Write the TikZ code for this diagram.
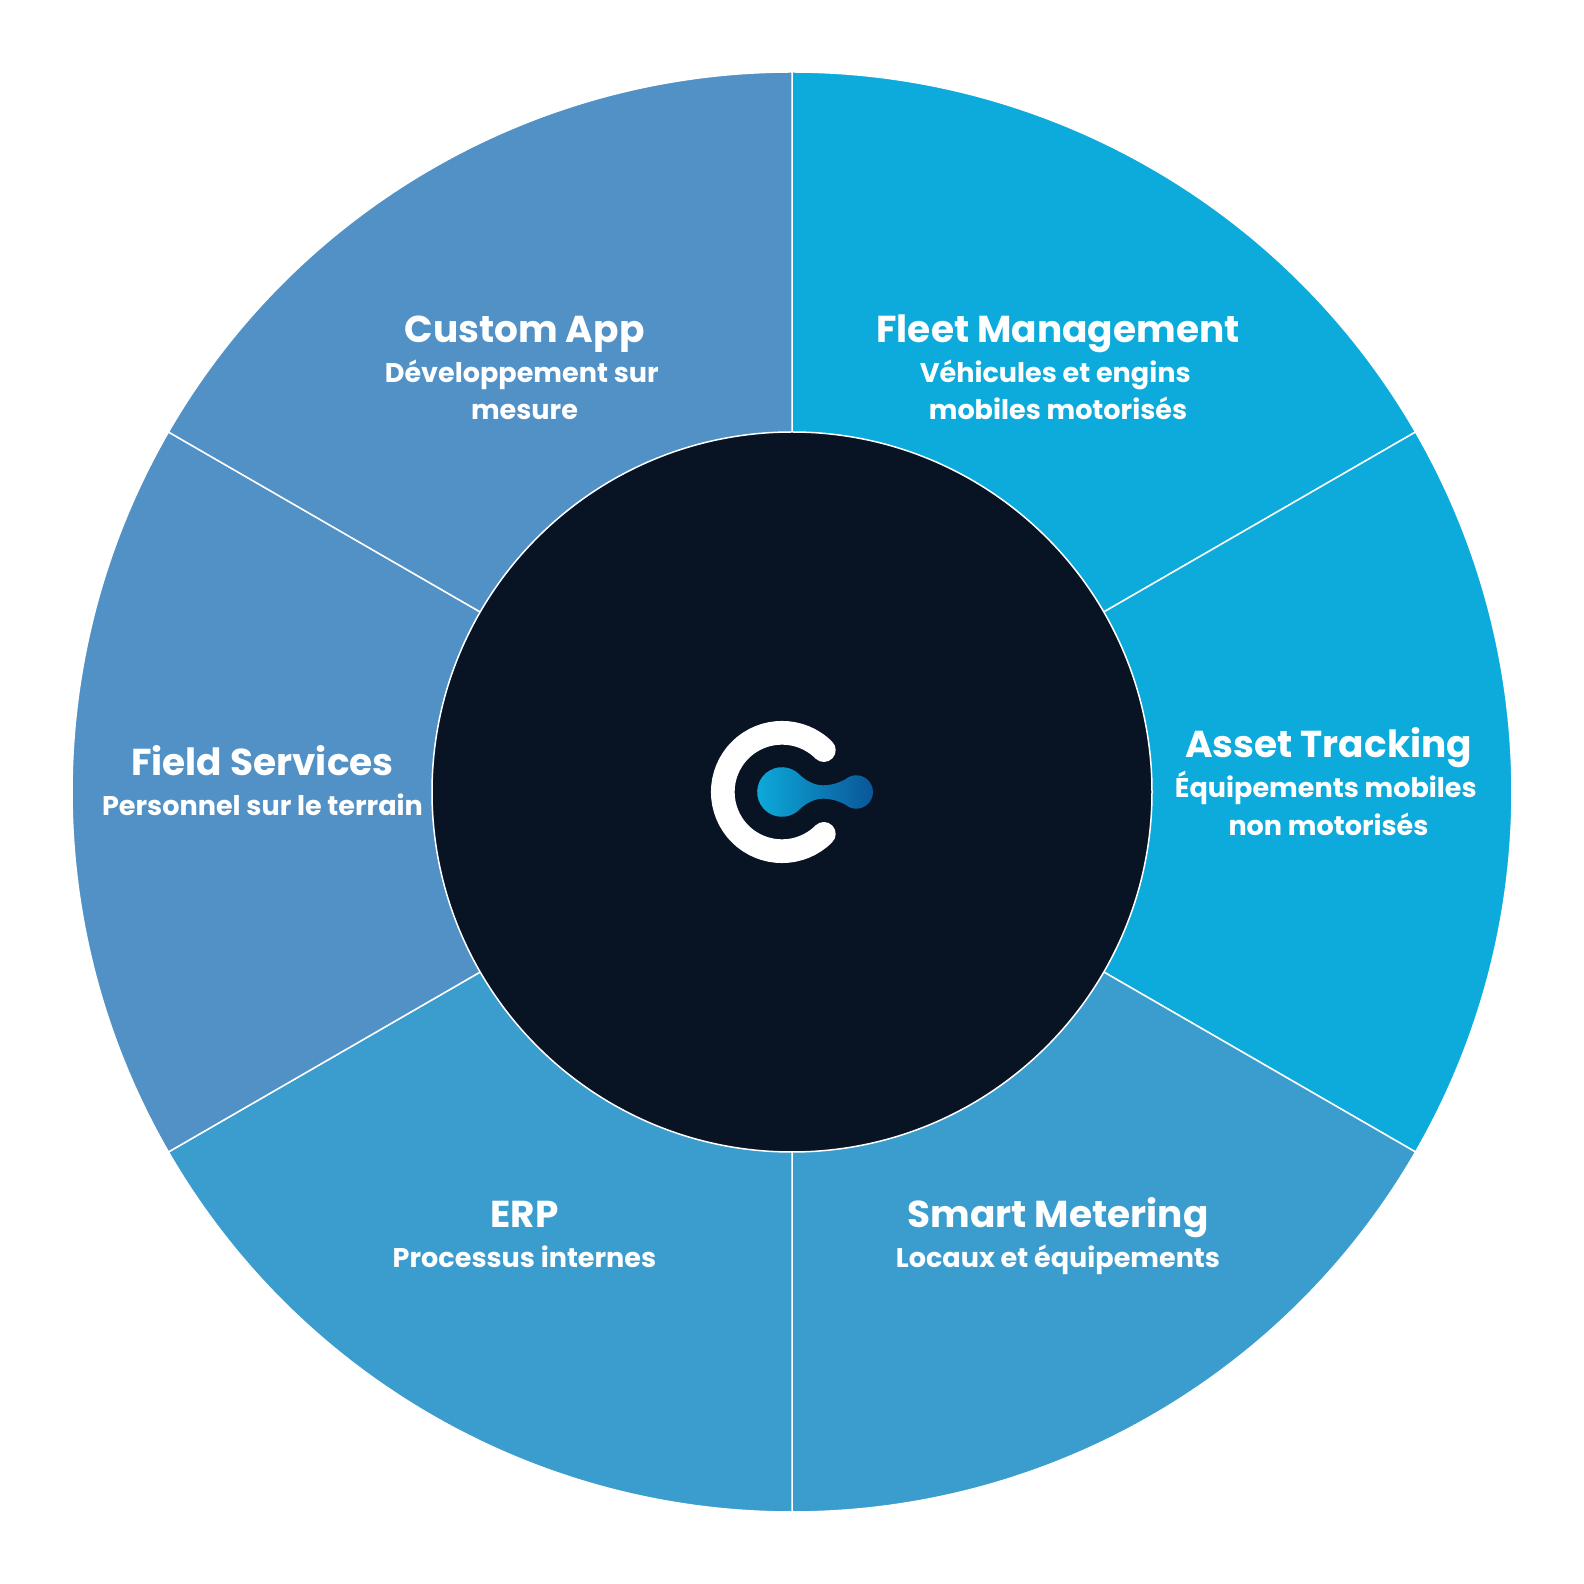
\documentclass[tikz,border=0pt]{standalone}
\usepackage{fontspec}
\setmainfont{Poppins}
\usepackage{tikz}
\usetikzlibrary{positioning}

\definecolor{fleetblue}{HTML}{0DABDB}
\definecolor{erpblue}{HTML}{3B9CCE}
\definecolor{appblue}{HTML}{5191C6}
\definecolor{hubdark}{HTML}{081324}
\definecolor{dropdark}{HTML}{0A5596}

\newcommand{\firstline}{\vphantom{É}}
\newcommand{\tailgap}{\hspace*{.2em}}

\tikzset{
	sector/.style={draw=white,line width=.15mm},
	title/.style={text=white,inner sep=0pt,anchor=base,font=\bfseries\fontsize{10.66}{12}\selectfont},
	subtitle/.style={text=white,inner sep=0pt,align=center,font=\bfseries\fontsize{7.7}{10.7}\selectfont}
}

\begin{document}
\begin{tikzpicture}
	\useasboundingbox (0,0) rectangle (15.84,15.84);
	\coordinate (center) at (7.92,7.92);
	\foreach \a/\col in {30/fleetblue,-30/fleetblue,-90/erpblue,-150/erpblue,150/appblue,90/appblue}
		\filldraw[sector,fill=\col] (center) -- ++(\a:7.2) arc[start angle=\a,delta angle=60,radius=7.2] -- cycle;
	\node[circle,fill=hubdark,draw=white,line width=.15mm,minimum size=7.2cm,inner sep=0pt] (hub) at (center) {};
	% labels
	\foreach \name/\x/\y/\head/\body in {
		fleet/10.58/12.415/{Fleet Management}/{Véhicules et engins\tailgap\\mobiles motorisés},
		asset/13.285/8.26/{Asset Tracking}/{Équipements mobiles\tailgap\\non motorisés},
		smart/10.58/3.56/{Smart Metering}/{Locaux et équipements},
		erp/5.245/3.56/{ERP}/{Processus internes},
		field/2.625/8.08/{Field Services}/{Personnel sur le terrain},
		app/5.245/12.415/{Custom App}/{Développement sur\tailgap\\mesure}}
	{
		\node[title] (head\name) at (\x,\y) {\head};
		\node[subtitle,below=.125 of head\name.base] (body\name) {\firstline\body};
	}
	% logo
	\begin{scope}[shift={(7.82,7.92)},x=.1mm,y=.1mm]
		\draw[white,line width=2.37mm,line cap=round] (45:59.2) arc[start angle=45,end angle=315,radius=59.2];
		\shade[left color=fleetblue,right color=dropdark] (18.4,16.6) arc[start angle=42,end angle=318,radius=24.8]
			.. controls (24,-11.6) and (32,-6.7) .. (41,-6.7)
			.. controls (49,-6.7) and (55.3,-8.6) .. (63.3,-12.6)
			arc[start angle=229,end angle=491,radius=16.7]
			.. controls (55.3,8.6) and (49,6.7) .. (41,6.7)
			.. controls (32,6.7) and (24,11.6) .. cycle;
	\end{scope}
\end{tikzpicture}
\end{document}
